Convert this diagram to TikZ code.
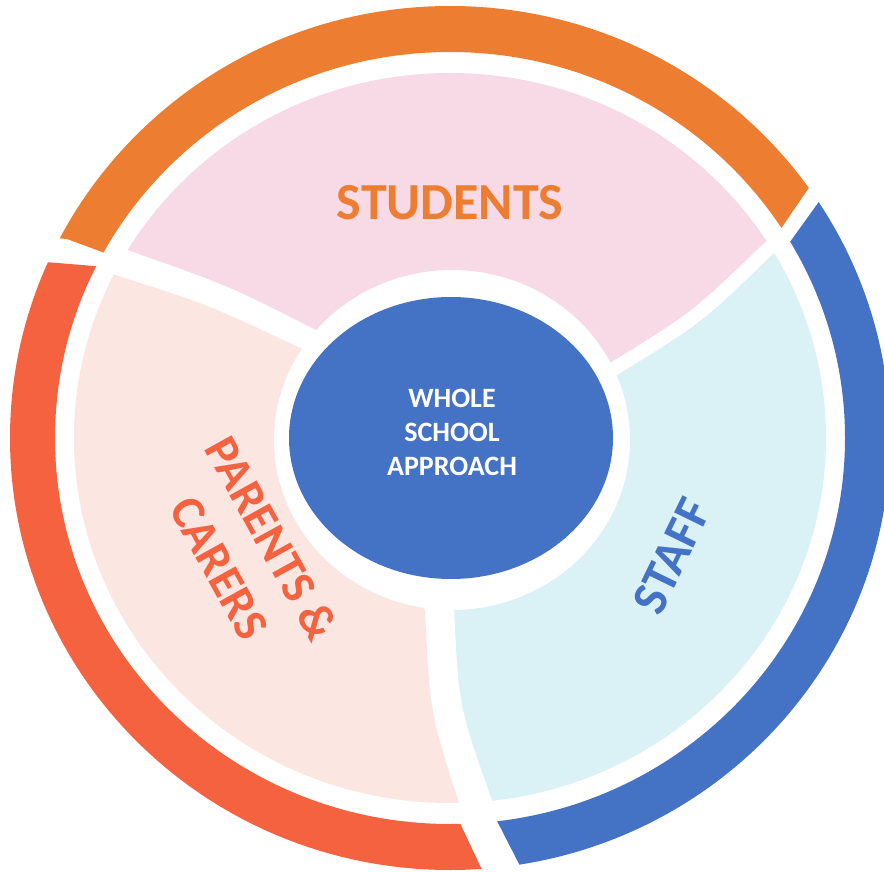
\documentclass[tikz,border=0pt]{standalone}
\usepackage{fontspec}
\setmainfont{Carlito}
\definecolor{colorStudents}{HTML}{ED7D31}
\definecolor{colorParents}{HTML}{F5623F}
\definecolor{colorStaff}{HTML}{4472C4}
\definecolor{fillStudents}{HTML}{F8D9E6}
\definecolor{fillParents}{HTML}{FCE6E1}
\definecolor{fillStaff}{HTML}{DAF1F5}
\usetikzlibrary{shapes.geometric}
\newcommand{\ringPath}{(450,438) ellipse [x radius=440pt, y radius=432pt] (450,438) ellipse [x radius=395pt, y radius=386pt]}
\newcommand{\sectorPath}{(450,438) ellipse [x radius=376pt, y radius=365pt] (452,440) ellipse [x radius=178pt, y radius=170pt]}

\begin{document}
\begin{tikzpicture}[x=1pt, y=-1pt, band/.style={even odd rule}, caption/.style={font=\bfseries\fontsize{#1}{#1}\selectfont}]
\useasboundingbox (0,0) rectangle (884,872);
\fill[white] (0,0) rectangle (884,872);
% outer ring
\begin{scope}
\clip (450,438) -- (152.8,270.8) -- (67,239) -- (-40,230) -- (-40,-40) -- (950,-40) -- (850,127.5) -- (808,189) -- (780,230) -- (766,250.5) -- cycle;
\fill[band, colorStudents] \ringPath;
\end{scope}
\begin{scope}
\clip (450,438) -- (152.8,270.8) -- (94,266) -- (45,262) -- (-50,254) -- (-50,950) -- (515,940) -- (483,872) -- (461.7,826.7) -- (455.3,813.1) -- cycle;
\fill[band, colorParents] \ringPath;
\end{scope}
\begin{scope}
\clip (450,438) -- (776,261.5) -- (790,242) -- (818,203) -- (860,144.5) -- (950,20) -- (950,950) -- (561,946) -- (517,860) -- (495,817) -- (488.4,804.1) -- cycle;
\fill[band, colorStaff] \ringPath;
\end{scope}
% inner sectors
\begin{scope}
\clip (39.5,212) -- (133,252) .. controls (229.1,285.8) .. (320,332) -- (376,356) -- (452,440) -- (561.5,400) -- (608,364) .. controls (692,312.5) .. (763,244) -- (825,196) -- (900,-20) -- (-20,-20) -- cycle;
\fill[band, fillStudents] \sectorPath;
\end{scope}
\begin{scope}
\clip (19,237.5) -- (112,274) .. controls (207.4,304.3) .. (298,347) -- (353.8,369) -- (452,440) -- (414,553) -- (425,612) .. controls (429.9,712.9) .. (461,809) -- (475.4,887.8) -- (490,950) -- (-50,950) -- (-50,230) -- cycle;
\fill[band, fillParents] \sectorPath;
\end{scope}
\begin{scope}
\clip (834.6,206) -- (773,254) .. controls (702.5,322.5) .. (619,374) -- (572.8,410) -- (452,440) -- (442.6,547.8) -- (454,606) .. controls (458.6,705.8) .. (492,800) -- (507,877.6) -- (520,950) -- (950,950) -- (950,150) -- cycle;
\fill[band, fillStaff] \sectorPath;
\end{scope}
% centre and labels
\node[ellipse, fill=colorStaff, minimum width=324pt, minimum height=282pt, inner sep=0pt] (hub) at (451,438) {};
\node[text=white, align=center, font=\bfseries\fontsize{28}{34}\selectfont] (hubText) at (452,432.5) {WHOLE\\SCHOOL\\APPROACH};
\node[caption=52, text=colorStudents] (students) at (450,202.5) {STUDENTS};
\node[text=colorParents, align=center, rotate=-61, font=\bfseries\fontsize{48}{60}\selectfont] (parents) at (246,553) {PARENTS \&\\CARERS};
\node[caption=50, text=colorStaff, rotate=64] (staff) at (672,556) {STAFF};
\end{tikzpicture}
\end{document}
